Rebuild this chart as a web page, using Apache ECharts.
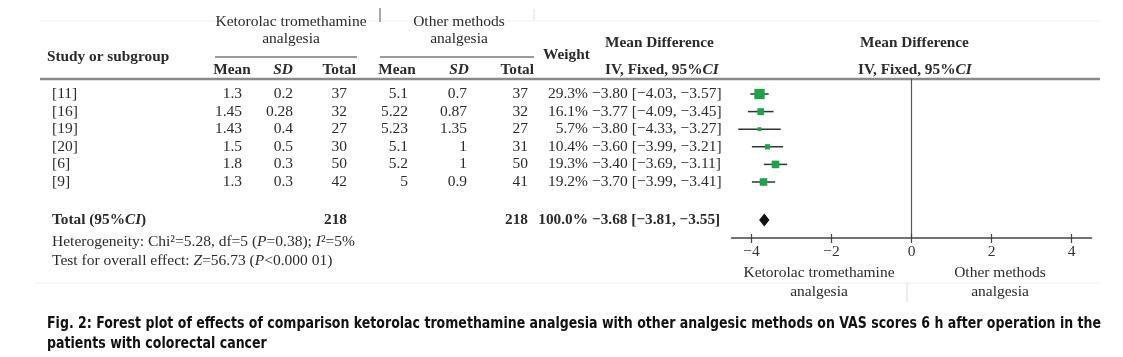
<!DOCTYPE html>
<html>
<head>
<meta charset="utf-8">
<script src="https://cdn.jsdelivr.net/npm/echarts@6/dist/echarts.min.js"></script>
<style>
html,body{margin:0;padding:0;background:#fff;}
#chart{width:1123px;height:357px;}
</style>
</head>
<body>
<div id="chart"></div>
<script>
// ---------- data ----------
const studies   = ['[11]', '[16]', '[19]', '[20]', '[6]', '[9]'];
const ketMean   = [1.3, 1.45, 1.43, 1.5, 1.8, 1.3];
const ketSD     = [0.2, 0.28, 0.4, 0.5, 0.3, 0.3];
const ketTotal  = [37, 32, 27, 30, 50, 42];
const othMean   = [5.1, 5.22, 5.23, 5.1, 5.2, 5];
const othSD     = [0.7, 0.87, 1.35, 1, 1, 0.9];
const othTotal  = [37, 32, 27, 31, 50, 41];
const weight    = [29.3, 16.1, 5.7, 10.4, 19.3, 19.2];
const md        = [-3.80, -3.77, -3.80, -3.60, -3.40, -3.70];
const ciLow     = [-4.03, -4.09, -4.33, -3.99, -3.69, -3.99];
const ciHigh    = [-3.57, -3.45, -3.27, -3.21, -3.11, -3.41];
const totalKet  = 218;
const totalOth  = 218;
const totalWeight = 100.0;
const totalMD   = -3.68;
const totalLow  = -3.81;
const totalHigh = -3.55;
const xTicks    = [-4, -2, 0, 2, 4];

// ---------- layout ----------
const SERIF = "'Liberation Serif','Times New Roman',serif";
const TXT = '#2b2b2b';
const FS = 15.5;   // body text
const FB = 15.3;   // bold header text
const ROW0_Y = 94, ROW_H = 17.6, TOP = 79, AXIS_Y = 238;
const yMin = (TOP - ROW0_Y) / ROW_H;
const yMax = (AXIS_Y - ROW0_Y) / ROW_H;
const totalRow = (220 - ROW0_Y) / ROW_H;
const col = { study: 52, m1: 242, sd1: 293, t1: 347, m2: 408, sd2: 467, t2: 528, w: 588, md: 592 };

const minus = s => String(s).replace(/-/g, '\u2212');
const fmtMD = (m, l, h) => minus(m.toFixed(2) + ' [' + l.toFixed(2) + ', ' + h.toFixed(2) + ']');

// table cells built from data arrays
const cells = [];
studies.forEach((s, i) => {
  cells.push({ x: col.study, row: i, text: s, align: 'left' });
  cells.push({ x: col.m1, row: i, text: String(ketMean[i]), align: 'right' });
  cells.push({ x: col.sd1, row: i, text: String(ketSD[i]), align: 'right' });
  cells.push({ x: col.t1, row: i, text: String(ketTotal[i]), align: 'right' });
  cells.push({ x: col.m2, row: i, text: String(othMean[i]), align: 'right' });
  cells.push({ x: col.sd2, row: i, text: String(othSD[i]), align: 'right' });
  cells.push({ x: col.t2, row: i, text: String(othTotal[i]), align: 'right' });
  cells.push({ x: col.w, row: i, text: weight[i].toFixed(1) + '%', align: 'right' });
  cells.push({ x: col.md, row: i, text: fmtMD(md[i], ciLow[i], ciHigh[i]), align: 'left' });
});
cells.push({ x: col.study, row: totalRow, text: 'Total (95%{bi|CI})', align: 'left', bold: true });
cells.push({ x: col.t1, row: totalRow, text: String(totalKet), align: 'right', bold: true });
cells.push({ x: col.t2, row: totalRow, text: String(totalOth), align: 'right', bold: true });
cells.push({ x: col.w, row: totalRow, text: totalWeight.toFixed(1) + '%', align: 'right', bold: true });
cells.push({ x: col.md, row: totalRow, text: fmtMD(totalMD, totalLow, totalHigh), align: 'left', bold: true });

const richBI = { bi: { fontFamily: SERIF, fontSize: FB, fontWeight: 'bold', fontStyle: 'italic', fill: TXT, color: TXT } };
const richI = { i: { fontFamily: SERIF, fontSize: FS, fontStyle: 'italic', fill: TXT, color: TXT } };

function T(x, y, text, o) {
  o = o || {};
  const align = o.align || 'left';
  const el = {
    type: 'text', x: x, y: y, silent: true,
    style: {
      text: text, fill: o.color || TXT,
      fontFamily: o.family || SERIF, fontSize: o.size || (o.bold ? FB : FS),
      fontWeight: o.bold ? 'bold' : 'normal', fontStyle: o.italic ? 'italic' : 'normal',
      align: align, textAlign: align, verticalAlign: 'middle', textVerticalAlign: 'middle',
      rich: o.rich
    }
  };
  if (o.scaleX) { el.scaleX = o.scaleX; el.originX = 0; el.originY = 0; }
  return el;
}
function L(x1, y1, x2, y2, color, w) {
  return { type: 'line', silent: true, shape: { x1: x1, y1: y1, x2: x2, y2: y2 }, style: { stroke: color, lineWidth: w } };
}

// caption: condensed bold, squeezed to the reference line width
const CAP = "'Liberation Sans Narrow','DejaVu Sans Condensed','Arial Narrow',sans-serif";
const CAP_SIZE = 16.5;
const cap1 = 'Fig. 2: Forest plot of effects of comparison ketorolac tromethamine analgesia with other analgesic methods on VAS scores 6 h after operation in the';
const cap2 = 'patients with colorectal cancer';
const mctx = document.createElement('canvas').getContext('2d');
mctx.font = 'bold ' + CAP_SIZE + 'px ' + CAP;
const capScale = Math.min(1, 1054 / mctx.measureText(cap1).width);

const graphics = [
  L(40, 21, 1100, 21, '#efefef', 1),
  L(380, 8, 380, 22, '#555', 1),
  L(534, 9, 534, 20, '#ddd', 1),
  L(40, 79, 1100, 79, '#8a8a8a', 2.5),
  L(215, 57, 357, 57, '#7a7a7a', 1.5),
  L(380, 57, 534, 57, '#7a7a7a', 1.5),
  T(291, 22, 'Ketorolac tromethamine', { align: 'center' }),
  T(291, 39, 'analgesia', { align: 'center' }),
  T(459, 22, 'Other methods', { align: 'center' }),
  T(459, 39, 'analgesia', { align: 'center' }),
  T(47, 57, 'Study or subgroup', { bold: true }),
  T(232, 70, 'Mean', { bold: true, align: 'center' }),
  T(283, 70, 'SD', { bold: true, italic: true, align: 'center' }),
  T(356, 70, 'Total', { bold: true, align: 'right' }),
  T(397, 70, 'Mean', { bold: true, align: 'center' }),
  T(459, 70, 'SD', { bold: true, italic: true, align: 'center' }),
  T(534, 70, 'Total', { bold: true, align: 'right' }),
  T(543, 55, 'Weight', { bold: true }),
  T(605, 43, 'Mean Difference', { bold: true }),
  T(605, 70, 'IV, Fixed, 95%{bi|CI}', { bold: true, rich: richBI }),
  T(860, 43, 'Mean Difference', { bold: true }),
  T(858, 70, 'IV, Fixed, 95%{bi|CI}', { bold: true, rich: richBI }),
  T(52, 242, 'Heterogeneity: Chi\u00b2=5.28, df=5 ({i|P}=0.38); {i|I}\u00b2=5%', { rich: richI }),
  T(52, 261, 'Test for overall effect: {i|Z}=56.73 ({i|P}<0.000 01)', { rich: richI }),
  L(35, 283, 1100, 283, '#f0f0f0', 1),
  L(907, 283, 907, 302, '#d8d8d8', 1),
  T(819, 273, 'Ketorolac tromethamine', { align: 'center' }),
  T(819, 292, 'analgesia', { align: 'center' }),
  T(1000, 273, 'Other methods', { align: 'center' }),
  T(1000, 292, 'analgesia', { align: 'center' }),
  T(47, 324, cap1, { bold: true, family: CAP, size: CAP_SIZE, color: '#111', scaleX: capScale }),
  T(47, 344, cap2, { bold: true, family: CAP, size: CAP_SIZE, color: '#111', scaleX: capScale })
];

const chart = echarts.init(document.getElementById('chart'), null, { renderer: 'canvas' });

const option = {
  backgroundColor: '#fff',
  animation: false,
  grid: [
    { left: 731.5, width: 360, top: TOP, height: AXIS_Y - TOP },
    { left: 0, width: 1123, top: TOP, height: AXIS_Y - TOP }
  ],
  xAxis: [
    {
      gridIndex: 0, type: 'value', min: -4.5, max: 4.5, position: 'bottom',
      axisLine: { show: true, onZero: false, lineStyle: { color: '#444', width: 1.5 } },
      axisTick: { show: true, customValues: xTicks, length: 5, lineStyle: { color: '#444', width: 1.2 } },
      axisLabel: { show: true, customValues: xTicks, margin: 6, formatter: v => minus(v), fontFamily: SERIF, fontSize: FS, color: '#333' },
      splitLine: { show: false }
    },
    {
      gridIndex: 0, type: 'value', min: -4.5, max: 4.5, position: 'bottom', offset: 0,
      axisLine: { show: false, onZero: false },
      axisTick: { show: true, inside: true, customValues: xTicks, length: 4, lineStyle: { color: '#444', width: 1.2 } },
      axisLabel: { show: false },
      splitLine: { show: false }
    },
    { gridIndex: 1, type: 'value', min: 0, max: 1123, show: false }
  ],
  yAxis: [
    {
      gridIndex: 0, type: 'value', inverse: true, min: yMin, max: yMax,
      axisLine: { show: true, onZero: true, lineStyle: { color: '#555', width: 1.2 } },
      axisTick: { show: false }, axisLabel: { show: false }, splitLine: { show: false }
    },
    { gridIndex: 1, type: 'value', inverse: true, min: yMin, max: yMax, show: false }
  ],
  graphic: { elements: graphics },
  series: [
    {
      type: 'custom', xAxisIndex: 0, yAxisIndex: 0, clip: false,
      data: studies.map((s, i) => [ciLow[i], ciHigh[i], i]),
      renderItem: (params, api) => {
        const a = api.coord([api.value(0), api.value(2)]);
        const b = api.coord([api.value(1), api.value(2)]);
        return { type: 'line', shape: { x1: a[0], y1: a[1], x2: b[0], y2: b[1] }, style: { stroke: '#333', lineWidth: 1.5 } };
      },
      encode: { x: [0, 1], y: 2 }
    },
    {
      type: 'scatter', xAxisIndex: 0, yAxisIndex: 0, symbol: 'rect',
      data: studies.map((s, i) => [md[i], i, weight[i]]),
      symbolSize: v => 2.4 + 0.27 * v[2],
      itemStyle: { color: '#1fa24a', opacity: 1 },
      z: 5
    },
    {
      type: 'custom', xAxisIndex: 0, yAxisIndex: 0, clip: false,
      data: [[totalMD, totalLow, totalHigh, totalRow]],
      renderItem: (params, api) => {
        const c = api.coord([api.value(0), api.value(3)]);
        const l = api.coord([api.value(1), api.value(3)]);
        const h = api.coord([api.value(2), api.value(3)]);
        const hh = 6.5;
        return { type: 'polygon', shape: { points: [[l[0], c[1]], [c[0], c[1] - hh], [h[0], c[1]], [c[0], c[1] + hh]] }, style: { fill: '#111' } };
      },
      encode: { x: [0, 1, 2], y: 3 }
    },
    {
      type: 'custom', xAxisIndex: 2, yAxisIndex: 1, clip: false,
      data: cells.map(c => [c.x, c.row]),
      renderItem: (params, api) => {
        const c = cells[params.dataIndex];
        const p = api.coord([api.value(0), api.value(1)]);
        return {
          type: 'text', x: p[0], y: p[1],
          style: {
            text: c.text, fill: TXT, fontFamily: SERIF, fontSize: c.bold ? FB : FS,
            fontWeight: c.bold ? 'bold' : 'normal',
            align: c.align, textAlign: c.align, verticalAlign: 'middle', textVerticalAlign: 'middle',
            rich: richBI
          }
        };
      },
      encode: { x: 0, y: 1 }
    }
  ]
};
chart.setOption(option);
</script>
</body>
</html>
